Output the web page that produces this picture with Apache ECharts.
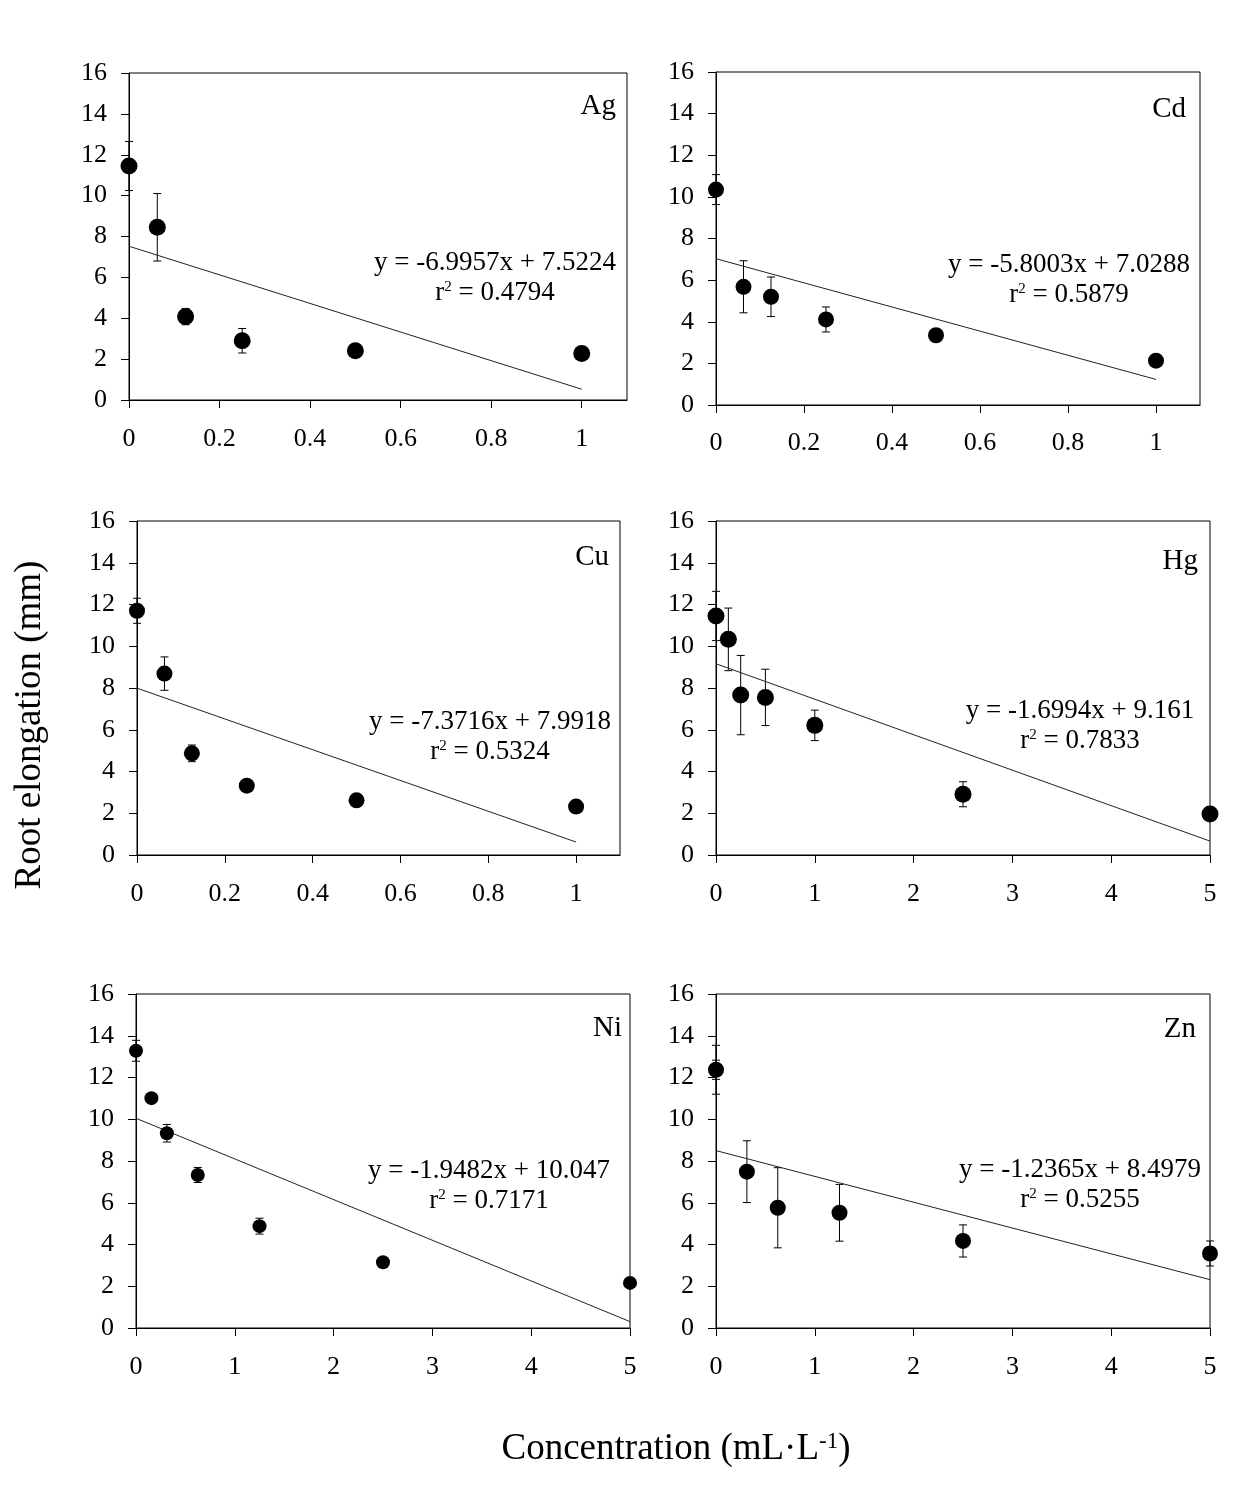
<!DOCTYPE html>
<html><head><meta charset="utf-8">
<script src="https://cdn.jsdelivr.net/npm/echarts@6/dist/echarts.min.js"></script>
<style>html,body{margin:0;padding:0;background:#fff}#c{width:1233px;height:1505px}</style>
</head><body><div id="c"></div>
<script>
// ---------- data ----------
const metals = ['Ag', 'Cd', 'Cu', 'Hg', 'Ni', 'Zn'];

const xAg = [0, 0.0625, 0.125, 0.25, 0.5, 1];
const yAg = [11.45, 8.45, 4.08, 2.90, 2.41, 2.28];
const eAg = [1.2, 1.65, 0.4, 0.6, 0.12, 0.12];

const xCd = [0, 0.0625, 0.125, 0.25, 0.5, 1];
const yCd = [10.35, 5.68, 5.20, 4.11, 3.35, 2.13];
const eCd = [0.72, 1.25, 0.95, 0.6, 0.12, 0.12];

const xCu = [0, 0.0625, 0.125, 0.25, 0.5, 1];
const yCu = [11.70, 8.69, 4.87, 3.32, 2.62, 2.32];
const eCu = [0.6, 0.8, 0.4, 0.12, 0.1, 0.1];

const xHg = [0, 0.125, 0.25, 0.5, 1, 2.5, 5];
const yHg = [11.45, 10.33, 7.66, 7.55, 6.21, 2.91, 1.96];
const eHg = [1.18, 1.5, 1.9, 1.35, 0.73, 0.6, 0.1];

const xNi = [0, 0.156, 0.3125, 0.625, 1.25, 2.5, 5];
const yNi = [13.28, 11.01, 9.33, 7.33, 4.88, 3.15, 2.16];
const eNi = [0.5, 0.1, 0.42, 0.36, 0.38, 0.1, 0.1];

const xZn = [0, 0.3125, 0.625, 1.25, 2.5, 5];
const yZn = [12.37, 7.49, 5.76, 5.52, 4.17, 3.57];
const eZn = [1.17, 1.48, 1.92, 1.36, 0.77, 0.6];
const eZnInner = [0.46, 0, 0, 0, 0, 0];

// regression: slope, intercept, r2
const slopes = [-6.9957, -5.8003, -7.3716, -1.6994, -1.9482, -1.2365];
const intercepts = [7.5224, 7.0288, 7.9918, 9.161, 10.047, 8.4979];
const eqTexts = ['y = -6.9957x + 7.5224', 'y = -5.8003x + 7.0288', 'y = -7.3716x + 7.9918',
                 'y = -1.6994x + 9.161', 'y = -1.9482x + 10.047', 'y = -1.2365x + 8.4979'];
const r2Texts = ['0.4794', '0.5879', '0.5324', '0.7833', '0.7171', '0.5255'];

const xMaxes = [1.1, 1.1, 1.1, 5, 5, 5];
const xTicksSmall = [0, 0.2, 0.4, 0.6, 0.8, 1];
const xTicksLarge = [0, 1, 2, 3, 4, 5];
const yTicks = [0, 2, 4, 6, 8, 10, 12, 14, 16];

const yTitle = 'Root elongation (mm)';
const xTitle = 'Concentration (mL·L';

// ---------- layout ----------
const FONT = "'Liberation Serif','Times New Roman',serif";
const grids = [
  {left: 129, top: 73, width: 498, height: 327},
  {left: 716, top: 72, width: 484, height: 333},
  {left: 137, top: 521, width: 483, height: 334},
  {left: 716, top: 521, width: 494, height: 334},
  {left: 136, top: 994, width: 494, height: 334},
  {left: 716, top: 994, width: 494, height: 334}
];
const labelPos = [[616, 106], [1186, 109], [609, 557], [1198, 561], [622, 1028], [1196, 1029]];
const eqPos = [[495, 263], [1069, 265], [490, 722], [1080, 711], [489, 1171], [1080, 1170]];
const symSizes = [17, 16, 16, 17, 14, 16];
const xMargins = [26, 25, 26, 26, 26, 26];

const xs = [xAg, xCd, xCu, xHg, xNi, xZn];
const ys = [yAg, yCd, yCu, yHg, yNi, yZn];
const es = [eAg, eCd, eCu, eHg, eNi, eZn];

const gridOpt = [], xAxes = [], yAxes = [], series = [], graphic = [];

function errRender(params, api) {
  const x = api.value(0), y = api.value(1), e = api.value(2);
  if (!e) return null;
  const t = api.coord([x, y + e]), b = api.coord([x, y - e]);
  const w = 4, st = {stroke: '#000', lineWidth: 1};
  return {type: 'group', children: [
    {type: 'line', shape: {x1: t[0], y1: t[1], x2: b[0], y2: b[1]}, style: st},
    {type: 'line', shape: {x1: t[0] - w, y1: t[1], x2: t[0] + w, y2: t[1]}, style: st},
    {type: 'line', shape: {x1: b[0] - w, y1: b[1], x2: b[0] + w, y2: b[1]}, style: st}
  ]};
}

metals.forEach((m, i) => {
  const g = grids[i];
  gridOpt.push(Object.assign({show: true, borderColor: '#000', borderWidth: 1, backgroundColor: 'transparent'}, g));
  const xt = xMaxes[i] > 2 ? xTicksLarge : xTicksSmall;
  xAxes.push({
    type: 'value', gridIndex: i, min: 0, max: xMaxes[i],
    axisLine: {lineStyle: {color: '#000', width: 1}},
    axisTick: {show: true, length: 8, lineStyle: {color: '#000'}, customValues: xt},
    axisLabel: {customValues: xt, margin: xMargins[i], color: '#000', fontFamily: FONT, fontSize: 26},
    splitLine: {show: false}
  });
  yAxes.push({
    type: 'value', gridIndex: i, min: 0, max: 16, interval: 2,
    axisLine: {show: true, lineStyle: {color: '#000', width: 1}},
    axisTick: {show: true, length: 8, lineStyle: {color: '#000'}},
    axisLabel: {margin: 22, color: '#000', fontFamily: FONT, fontSize: 26},
    splitLine: {show: false}
  });
  const pts = xs[i].map((x, k) => [x, ys[i][k]]);
  const errs = xs[i].map((x, k) => [x, ys[i][k], es[i][k]]);
  series.push({
    type: 'custom', xAxisIndex: i, yAxisIndex: i, renderItem: errRender,
    data: errs, clip: false, silent: true, z: 2
  });
  if (m === 'Zn') {
    series.push({
      type: 'custom', xAxisIndex: i, yAxisIndex: i, renderItem: errRender,
      data: xs[i].map((x, k) => [x, ys[i][k], eZnInner[k]]), clip: false, silent: true, z: 2
    });
  }
  const xEnd = xs[i][xs[i].length - 1];
  series.push({
    type: 'line', xAxisIndex: i, yAxisIndex: i, symbol: 'none', silent: true, z: 3,
    lineStyle: {color: '#222', width: 1},
    data: [[0, intercepts[i]], [xEnd, slopes[i] * xEnd + intercepts[i]]]
  });
  series.push({
    type: 'scatter', xAxisIndex: i, yAxisIndex: i, symbol: 'circle', symbolSize: symSizes[i],
    itemStyle: {color: '#000', opacity: 1}, data: pts, clip: false, z: 4
  });
  graphic.push({
    type: 'text', x: labelPos[i][0], y: labelPos[i][1], z: 10,
    style: {text: m, font: `29px ${FONT}`, fill: '#000', textAlign: 'right', textVerticalAlign: 'middle'}
  });
  graphic.push({
    type: 'text', x: eqPos[i][0], y: eqPos[i][1], z: 10,
    style: {text: eqTexts[i], font: `27px ${FONT}`, fill: '#000', textAlign: 'center', textVerticalAlign: 'middle'}
  });
  graphic.push({
    type: 'text', x: eqPos[i][0], y: eqPos[i][1] + 30, z: 10,
    style: {
      text: '{n|r}{s|2}{n| = ' + r2Texts[i] + '}', fill: '#000', textAlign: 'center', textVerticalAlign: 'middle',
      rich: {
        n: {fontFamily: FONT, fontSize: 27, color: '#000'},
        s: {fontFamily: FONT, fontSize: 15, color: '#000', verticalAlign: 'top', padding: [0, 0, 10, 0]}
      }
    }
  });
});

// Clip Cd x-axis labels as in the reference
graphic.push({type: 'rect', shape: {x: 690, y: 450, width: 540, height: 30}, style: {fill: '#fff'}, z: 20});

graphic.push({
  type: 'text', x: 30, y: 725, rotation: Math.PI / 2, z: 10,
  style: {text: yTitle, font: `37px ${FONT}`, fill: '#000', textAlign: 'center', textVerticalAlign: 'middle'}
});
graphic.push({
  type: 'text', x: 676, y: 1449, z: 10,
  style: {
    text: '{n|' + xTitle + '}{s|-1}{n|)}', textAlign: 'center', textVerticalAlign: 'middle',
    rich: {
      n: {fontFamily: FONT, fontSize: 37, color: '#000'},
      s: {fontFamily: FONT, fontSize: 23, color: '#000', verticalAlign: 'top', padding: [0, 0, 14, 0]}
    }
  }
});

const chart = echarts.init(document.getElementById('c'), null, {renderer: 'canvas'});
chart.setOption({
  backgroundColor: '#fff',
  animation: false,
  grid: gridOpt, xAxis: xAxes, yAxis: yAxes, series: series, graphic: graphic
});
</script></body></html>
